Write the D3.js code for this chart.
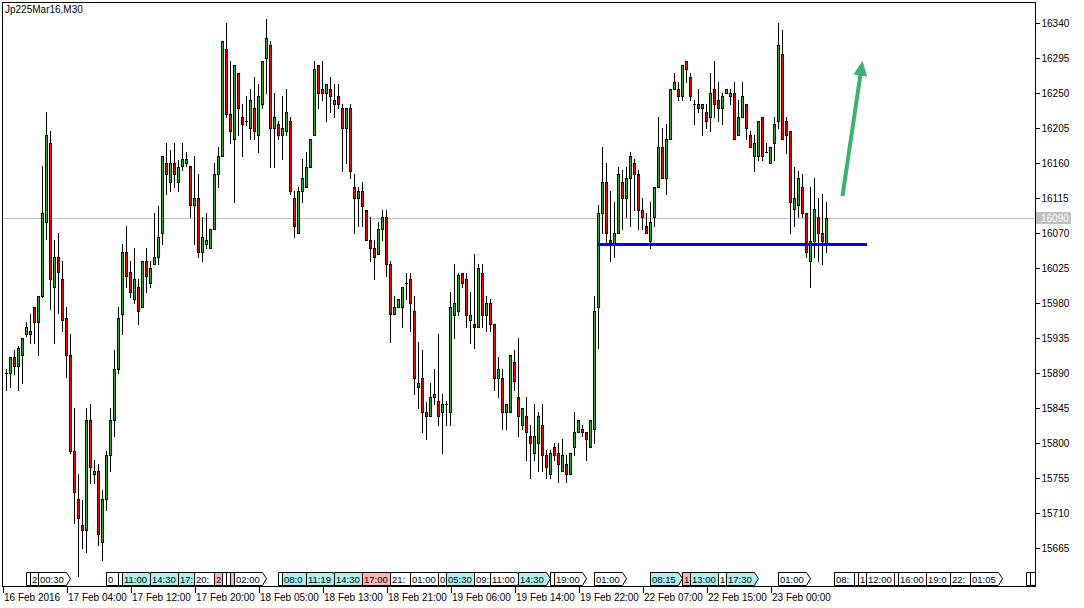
<!DOCTYPE html>
<html><head><meta charset="utf-8">
<script src="https://cdn.jsdelivr.net/npm/d3@7"></script>
<style>body{margin:0;background:#fff}svg{display:block}</style></head>
<body><svg id="c" width="1084" height="608"></svg>
<script>
const title = "Jp225Mar16,M30";
const opens = [15890,15890,15911,15900,15913,15940,15940,15975,15956,15990,
16084,16186,16001,16040,16011,15961,15913,15790,15729,15695,
15689,15830,15760,15764,15673,15729,15785,15830,15895,15966,
16046,16020,15985,16001,15975,16035,16006,16030,16040,16070,
16161,16136,16161,16136,16156,16161,16156,16106,16115,16046,
16056,16051,16075,16146,16170,16307,16224,16191,16276,16219,
16215,16206,16231,16196,16236,16296,16312,16206,16211,16196,
16201,16215,16115,16070,16125,16129,16155,16196,16286,16256,
16251,16256,16236,16246,16231,16206,16231,16129,16115,16125,
16100,16061,16051,16044,16075,16091,16030,15966,15975,15975,
16006,16011,15970,15873,15884,15840,15835,15859,15854,15840,
15850,15840,15965,15970,16019,16011,15959,15954,15949,16019,
15965,15980,15954,15884,15884,15840,15840,15904,15859,15824,
15835,15809,15788,15800,15824,15785,15760,15795,15788,15764,
15774,15760,15795,15814,15819,15814,15795,15819,15975,16096,
16136,16061,16057,16070,16136,16115,16141,16161,16146,16100,
16080,16060,16091,16129,16181,16141,16191,16256,16256,16246,
16291,16271,16236,16236,16231,16226,16220,16256,16241,16231,
16251,16246,16251,16196,16220,16236,16196,16170,16170,16220,
16175,16161,16186,16215,16301,16215,16201,16101,16106,16129,
16096,16035,16060,16091,16070,16055];
const highs = [15895,15911,15920,15925,15935,15956,15966,15975,15990,16156,
16226,16201,16061,16070,16035,15975,15940,15845,15760,15727,
15845,15850,15779,15774,15740,15790,15845,15920,15975,16056,
16080,16035,16051,16011,16035,16051,16035,16096,16105,16170,
16186,16177,16186,16164,16186,16174,16156,16170,16146,16091,
16096,16075,16161,16181,16317,16341,16291,16286,16276,16236,
16246,16256,16271,16262,16291,16346,16317,16251,16215,16246,
16256,16220,16125,16129,16165,16175,16191,16291,16286,16291,
16262,16271,16262,16262,16236,16231,16236,16146,16129,16136,
16100,16091,16061,16084,16100,16100,16035,15990,15985,16001,
16019,16019,15990,15930,15920,15853,15878,15895,15940,15864,
15854,15995,16030,16019,16019,16019,15995,16044,16030,16030,
15990,15985,15954,15911,15895,15850,15914,15920,15935,15845,
15859,15824,15850,15840,15850,15791,15791,15800,15800,15805,
15785,15788,15840,15830,15824,15814,15830,15990,16106,16181,
16161,16125,16110,16155,16151,16155,16175,16165,16151,16115,
16096,16110,16129,16220,16206,16211,16256,16276,16265,16286,
16291,16276,16241,16256,16236,16236,16276,16291,16265,16251,
16256,16256,16265,16241,16265,16236,16201,16196,16215,16220,
16186,16181,16220,16341,16331,16220,16201,16155,16150,16146,
16096,16129,16141,16115,16120,16110];
const lows = [15869,15873,15889,15869,15878,15938,15929,15929,15913,15988,
16063,15973,15929,15967,15944,15885,15787,15698,15630,15666,
15660,15749,15749,15669,15650,15714,15764,15809,15891,15940,
16001,15988,15980,15954,15975,15995,16001,16030,16030,16056,
16120,16125,16130,16125,16151,16156,16091,16056,16039,16035,
16051,16051,16075,16129,16170,16219,16186,16110,16196,16170,
16209,16191,16191,16175,16231,16251,16155,16155,16191,16165,
16196,16120,16065,16070,16110,16129,16155,16196,16231,16241,
16215,16226,16219,16231,16150,16160,16141,16070,16079,16079,
16061,16035,16011,16044,16061,16015,15930,15966,15975,15949,
15985,15944,15864,15845,15814,15805,15835,15850,15824,15788,
15824,15824,15935,15965,16001,15949,15929,15923,15949,15949,
15944,15944,15869,15859,15819,15819,15840,15869,15809,15819,
15779,15755,15779,15765,15765,15755,15755,15779,15750,15764,
15750,15760,15785,15814,15809,15779,15795,15800,15923,16070,
16057,16034,16039,16070,16075,16091,16080,16100,16075,16075,
16070,16051,16080,16129,16141,16120,16191,16256,16241,16241,
16265,16241,16211,16226,16196,16206,16201,16220,16215,16211,
16251,16236,16191,16196,16220,16191,16181,16150,16164,16164,
16175,16161,16164,16206,16191,16173,16070,16080,16091,16091,
16039,16001,16039,16034,16030,16046];
const closes = [15890,15911,15900,15923,15935,15950,15945,15956,15990,16096,
16196,16011,16040,16020,15959,15913,15790,15738,15704,15689,
15830,15769,15764,15684,15729,15785,15830,15895,15961,16046,
16015,15995,16011,15970,16035,16015,16025,16040,16065,16170,
16146,16161,16146,16155,16165,16165,16106,16115,16046,16065,
16061,16075,16146,16170,16317,16224,16201,16286,16231,16211,
16215,16241,16201,16246,16291,16321,16206,16219,16196,16206,
16226,16125,16079,16125,16141,16155,16191,16281,16251,16251,
16262,16246,16241,16236,16206,16231,16150,16115,16125,16105,
16061,16051,16039,16075,16091,16030,15966,15975,15985,16001,
16006,15980,15884,15878,15840,15835,15859,15864,15835,15850,
15850,15975,15980,16016,16006,15965,15965,15949,16025,15965,
15980,15954,15884,15895,15840,15850,15914,15880,15835,15845,
15814,15800,15809,15835,15785,15769,15788,15785,15774,15785,
15760,15788,15814,15830,15814,15805,15830,15970,16096,16136,
16070,16057,16070,16146,16115,16141,16170,16146,16100,16091,
16070,16085,16129,16181,16141,16191,16256,16265,16246,16286,
16281,16246,16236,16231,16236,16215,16251,16236,16231,16246,
16256,16251,16191,16220,16246,16206,16181,16186,16215,16170,
16175,16181,16211,16312,16191,16196,16110,16115,16141,16096,
16046,16060,16101,16070,16060,16090];

const priceTicks = [16340,16295,16250,16205,16160,16115,16070,16025,15980,15935,15890,15845,15800,15755,15710,15665];
const timeLabels = ["16 Feb 2016","17 Feb 04:00","17 Feb 12:00","17 Feb 20:00","18 Feb 05:00","18 Feb 13:00","18 Feb 21:00","19 Feb 06:00","19 Feb 14:00","19 Feb 22:00","22 Feb 07:00","22 Feb 15:00","23 Feb 00:00"];
const timeIdx = [-1,15,31,47,63,79,95,111,127,143,159,175,191];

// event markers on the time axis (bar index, label, kind)
const eventIdx  = [5,6,8,25,28,29,36,43,47,52,54,55,56,57,68,69,75,82,89,96,101,108,110,117,121,128,136,137,147,161,169,171,178,180,193,207,212,213,215,222,223,230,236,241,255,256];
const eventText = ["22:00","23:00","00:30","09:00","10:00","11:00","14:30","17:30","20:00","22:00","23:00","23:30","00:00","02:00","07:00","08:00","11:19","14:30","17:00","21:30","01:00","03:00","05:30","09:00","11:00","14:30","18:00","19:00","01:00","08:15","10:00","13:00","15:00","17:30","01:00","08:00","10:00","11:00","12:00","13:00","16:00","19:00","22:30","01:05","09:00","10:00"];
const eventKind = ["w","w","w","w","w","c","c","c","w","p","w","w","p","w","w","c","c","c","p","w","w","w","c","w","w","c","w","w","w","c","p","c","w","c","w","w","w","w","w","w","w","w","w","w","w","w"];

// horizontal support level and arrow annotation
const levelPrice = 16055, levelFrom = 147.75, levelTo = 215;
const arrowFrom = [209, 16118], arrowTo = [214, 16292];

const FONT = "'Liberation Sans', Arial, sans-serif";
const GREEN = "#22b422", RED = "#ff0000";
const L = 2, T = 2, R = 1035, B = 586;

const svg = d3.select("#c").attr("shape-rendering","crispEdges");
const x = d3.scaleLinear().domain([0, 1]).range([6.5, 10.5]);
const y = d3.scaleLinear().domain([15665, 16340]).range([548.3, 23.3]);

svg.append("defs").append("clipPath").attr("id","pc")
  .append("rect").attr("x",L).attr("y",T).attr("width",R-L).attr("height",B-T);
const g = svg.append("g").attr("clip-path","url(#pc)");

// current price line
const lastPrice = closes[closes.length-1];
const yl = Math.round(y(lastPrice)) + 0.5;
g.append("line").attr("x1",L).attr("x2",R).attr("y1",yl).attr("y2",yl).attr("stroke","#c0c0c0");

const data = opens.map((o,i)=>({i, o, h:highs[i], l:lows[i], c:closes[i]}));
// wicks
g.append("g").selectAll("line").data(data).join("line")
  .attr("x1",d=>x(d.i)).attr("x2",d=>x(d.i))
  .attr("y1",d=>Math.round(y(d.h))).attr("y2",d=>Math.round(y(d.l))+1)
  .attr("stroke","#000");
// bodies
const bodies = data.filter(d=>Math.round(y(d.o))!==Math.round(y(d.c)));
g.append("g").selectAll("rect").data(bodies).join("rect")
  .attr("x",d=>x(d.i)-1)
  .attr("y",d=>Math.min(Math.round(y(d.o)),Math.round(y(d.c)))+0.5)
  .attr("width",2)
  .attr("height",d=>Math.abs(Math.round(y(d.o))-Math.round(y(d.c))))
  .attr("fill",d=>d.c>d.o?GREEN:RED).attr("stroke","#000");
const dojis = data.filter(d=>Math.round(y(d.o))===Math.round(y(d.c)));
g.append("g").selectAll("line").data(dojis).join("line")
  .attr("x1",d=>x(d.i)-1.5).attr("x2",d=>x(d.i)+1.5)
  .attr("y1",d=>Math.round(y(d.o))+0.5).attr("y2",d=>Math.round(y(d.o))+0.5)
  .attr("stroke","#000");

// support level
const yb = y(levelPrice);
g.append("line").attr("x1",x(levelFrom)).attr("x2",x(levelTo)).attr("y1",yb).attr("y2",yb)
  .attr("stroke","#0000ff").attr("stroke-width",3);

// arrow
{
  const x0=x(arrowFrom[0]), y0=y(arrowFrom[1]), x1=x(arrowTo[0]), y1=y(arrowTo[1]);
  const dx=x1-x0, dy=y1-y0, len=Math.hypot(dx,dy), ux=dx/len, uy=dy/len;
  const hl=15, hw=7;
  const bx=x1-ux*hl, by=y1-uy*hl;
  const ag = g.append("g").attr("shape-rendering","auto");
  ag.append("line").attr("x1",x0).attr("y1",y0).attr("x2",bx+ux*2).attr("y2",by+uy*2)
    .attr("stroke","#3cb371").attr("stroke-width",4);
  ag.append("path").attr("d",`M${x1},${y1}L${bx-uy*hw},${by+ux*hw}L${bx+uy*hw},${by-ux*hw}Z`)
    .attr("fill","#3cb371");
}

// event markers (later markers cover earlier ones; text truncated to visible room)
const eg = g.append("g");
const ET = 572, EB = 585;
eventIdx.forEach((idx,k)=>{
  const left = x(idx) - 0.5;
  const nextLeft = k+1 < eventIdx.length ? x(eventIdx[k+1]) - 0.5 : R;
  const room = Math.min(nextLeft, R) - left - 2.5;
  const grp = eg.append("g");
  const path = grp.append("path");
  const t = grp.append("text").attr("x",left+2).attr("y",582.5)
    .attr("font-family",FONT).attr("font-size","9.5px").attr("fill","#000");
  const full = eventText[k];
  t.text(full);
  const fullW = t.node().getComputedTextLength();
  let s = full;
  while (s.length && t.node().getComputedTextLength() > room) { s = s.slice(0,-1); t.text(s); }
  const r = Math.round(left + fullW + 4);
  const mid = (ET+EB)/2;
  path.attr("d",`M${left+0.5},${ET+0.5}H${r+0.5}L${r+4.5},${mid}L${r+0.5},${EB+0.5}H${left+0.5}Z`)
    .attr("fill", eventKind[k]==="c" ? "#aeeeee" : eventKind[k]==="p" ? "#ffb4b4" : "#ffffff")
    .attr("stroke","#000").attr("shape-rendering","auto");
});

// frame
svg.append("rect").attr("x",L+0.5).attr("y",T+0.5).attr("width",R-L).attr("height",B-T)
  .attr("fill","none").attr("stroke","#000");

// title
svg.append("text").attr("x",5).attr("y",13).attr("font-family",FONT).attr("font-size","10px")
  .attr("fill","#000").text(title);

// price axis
const ya = svg.append("g").attr("transform",`translate(${R+0.5},0)`)
  .call(d3.axisRight(y).tickValues(priceTicks).tickSize(4).tickSizeOuter(0).tickPadding(2).tickFormat(d3.format("d")));
ya.select(".domain").remove();
ya.selectAll("line").attr("stroke","#000");
ya.selectAll("text").attr("font-family",FONT).attr("font-size","10px").attr("fill","#000");

// current price label
svg.append("rect").attr("x",1036).attr("y",Math.round(y(lastPrice))-6).attr("width",35).attr("height",12).attr("fill","#c0c0c0");
svg.append("text").attr("x",1041).attr("y",Math.round(y(lastPrice))+4).attr("font-family",FONT)
  .attr("font-size","10px").attr("fill","#fff").text(d3.format("d")(lastPrice));

// time axis
const xa = svg.append("g").attr("transform",`translate(0,${B+0.5})`)
  .call(d3.axisBottom(x).tickValues(timeIdx).tickSize(6).tickSizeOuter(0).tickPadding(1).tickFormat((d,k)=>timeLabels[k]));
xa.select(".domain").remove();
xa.selectAll("line").attr("stroke","#000");
xa.selectAll("text").attr("text-anchor","start").attr("x",1).attr("font-family",FONT).attr("font-size","10px").attr("fill","#000");
</script></body></html>
